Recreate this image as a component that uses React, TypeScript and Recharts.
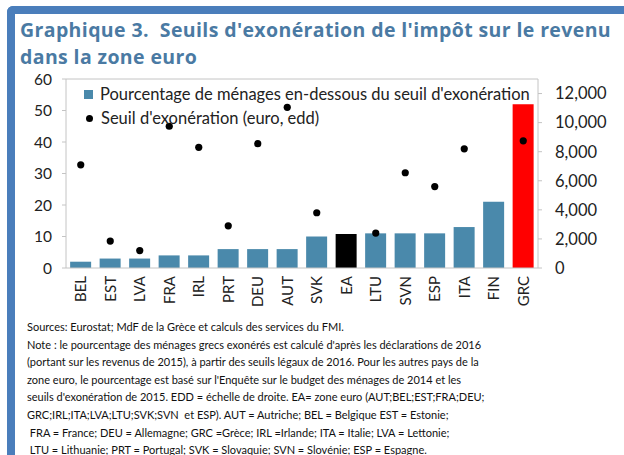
import React from "react"
import {
  ComposedChart,
  Bar,
  Line,
  XAxis,
  YAxis,
  Cell,
  ReferenceLine,
} from "recharts"

const countries = ["BEL", "EST", "LVA", "FRA", "IRL", "PRT", "DEU", "AUT", "SVK", "EA", "LTU", "SVN", "ESP", "ITA", "FIN", "GRC"]
const pctBelow = [2, 3, 3, 4, 4, 6, 6, 6, 10, 10.8, 11, 11, 11, 13, 21, 52]
const threshold: (number | null)[] = [7100, 1850, 1200, 9750, 8300, 2900, 8550, 11050, 3800, null, 2400, 6550, 5600, 8200, null, 8750]
const leftTicks = [0, 10, 20, 30, 40, 50, 60]
const rightTicks = [0, 2000, 4000, 6000, 8000, 10000, 12000]

const notes = [
  "Sources: Eurostat; MdF de la Grèce et calculs des services du FMI.",
  "Note : le pourcentage des ménages grecs exonérés est calculé d'après les déclarations de 2016",
  "(portant sur les revenus de 2015), à partir des seuils légaux de 2016. Pour les autres pays de la",
  "zone euro, le pourcentage est basé sur l'Enquête sur le budget des ménages de 2014 et les",
  "seuils d'exonération de 2015. EDD = échelle de droite. EA= zone euro (AUT;BEL;EST;FRA;DEU;",
  "GRC;IRL;ITA;LVA;LTU;SVK;SVN  et ESP). AUT = Autriche; BEL = Belgique EST = Estonie;",
  " FRA = France; DEU = Allemagne; GRC =Grèce; IRL =Irlande; ITA = Italie; LVA = Lettonie;",
  " LTU = Lithuanie; PRT = Portugal; SVK = Slovaquie; SVN = Slovénie; ESP = Espagne.",
]

const BAR_COLOR = "#4a89ab"
const FRAME = "#c4c4c4"
const FONT = "Lato, 'Open Sans', sans-serif"

const chartData = countries.map((c, i) => ({
  name: c,
  pct: pctBelow[i],
  seuil: threshold[i],
}))

const barFill = (name: string) => (name === "EA" ? "#000000" : name === "GRC" ? "#ff0000" : BAR_COLOR)

// legend sits inside the plot, top-left
const LegendBox = () => (
  <div
    style={{
      position: "absolute",
      left: 84,
      top: 82,
      fontFamily: FONT,
      fontSize: 16.5,
      color: "#222",
      lineHeight: "24px",
      whiteSpace: "nowrap",
    }}
  >
    <div style={{ display: "flex", alignItems: "center" }}>
      <span style={{ width: 9, height: 9, background: BAR_COLOR, marginRight: 7, display: "inline-block" }} />
      Pourcentage de ménages en-dessous du seuil d'exonération
    </div>
    <div style={{ display: "flex", alignItems: "center" }}>
      <span style={{ width: 7, height: 7, borderRadius: 4, background: "#000", margin: "0 8px 0 2px", display: "inline-block" }} />
      Seuil d'exonération (euro, edd)
    </div>
  </div>
)

const Dot = (props: any) => {
  const { cx, cy, value, index } = props
  if (value == null || cy == null) return <g key={`d-${index}`} />
  return <circle key={`d-${index}`} cx={cx} cy={cy} r={3.6} fill="#000" />
}

export default function App() {
  return (
    <div style={{ position: "absolute", left: 0, top: 0, width: 624, height: 455, background: "#fff", overflow: "hidden" }}>
      <div style={{ position: "absolute", left: 7, top: 6, width: 620, height: 8, background: "#4a7ebb", borderTopLeftRadius: 6 }} />
      <div style={{ position: "absolute", left: 7, top: 6, width: 8, height: 460, background: "#4a7ebb", borderTopLeftRadius: 6 }} />
      <div
        style={{
          position: "absolute",
          left: 20,
          top: 16,
          fontFamily: "'Open Sans', sans-serif",
          fontWeight: 700,
          fontSize: 19.5,
          letterSpacing: 0.38,
          lineHeight: "27px",
          color: "#4a7aa3",
          whiteSpace: "nowrap",
        }}
      >
        <div>Graphique 3.&nbsp; Seuils d'exonération de l'impôt sur le revenu</div>
        <div>dans la zone euro</div>
      </div>
      <div style={{ position: "absolute", left: 0, top: 0 }}>
        <ComposedChart
          width={624}
          height={455}
          data={chartData}
          margin={{ top: 79, right: 26, left: 26, bottom: 142 }}
          barCategoryGap="14%"
        >
          <XAxis
            dataKey="name"
            interval={0}
            angle={-90}
            textAnchor="end"
            height={45}
            tickLine={false}
            tickMargin={2}
            axisLine={{ stroke: FRAME }}
            tick={{ fontFamily: FONT, fontSize: 15, fill: "#222", dx: -5 }}
          />
          <YAxis
            yAxisId="left"
            domain={[0, 60]}
            ticks={leftTicks}
            width={40}
            tickSize={4}
            tickMargin={10}
            axisLine={{ stroke: FRAME }}
            tickLine={{ stroke: FRAME }}
            tick={{ fontFamily: FONT, fontSize: 15.5, fill: "#222" }}
          />
          <YAxis
            yAxisId="right"
            orientation="right"
            domain={[0, 13000]}
            ticks={rightTicks}
            width={60}
            tickSize={4}
            tickMargin={13}
            axisLine={{ stroke: FRAME }}
            tickLine={{ stroke: FRAME }}
            tickFormatter={(v: number) => v.toLocaleString("en-US")}
            tick={{ fontFamily: FONT, fontSize: 16.5, fill: "#222" }}
          />
          <ReferenceLine yAxisId="left" y={60} stroke={FRAME} />
          <Bar yAxisId="left" dataKey="pct" isAnimationActive={false}>
            {chartData.map((d, i) => (
              <Cell key={`c-${i}`} fill={barFill(d.name)} />
            ))}
          </Bar>
          <Line
            yAxisId="right"
            dataKey="seuil"
            stroke="none"
            dot={Dot}
            activeDot={false}
            isAnimationActive={false}
          />
        </ComposedChart>
      </div>
      <LegendBox />
      <div
        style={{
          position: "absolute",
          left: 27,
          top: 318,
          fontFamily: FONT,
          fontSize: 11,
          lineHeight: "17.6px",
          color: "#111",
          whiteSpace: "pre",
        }}
      >
        {notes.map((n, i) => (
          <div key={i}>{n}</div>
        ))}
      </div>
    </div>
  )
}
